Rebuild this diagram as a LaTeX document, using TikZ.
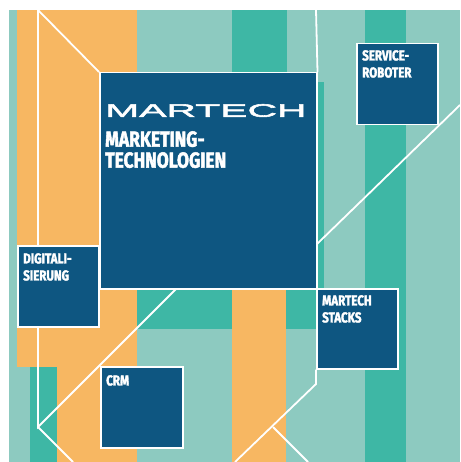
\documentclass[tikz,border=0pt]{standalone}
\usepackage{fontspec}
\usepackage{xcolor}
\usepackage{tikz}
\usetikzlibrary{calc, positioning, backgrounds}
\setmainfont{Fira Sans}
\newfontfamily\labelfont[FakeStretch=0.8,FakeBold=2]{Fira Sans}
\newfontfamily\logofont[FakeStretch=2.27,FakeBold=3]{Liberation Sans}
\definecolor{tealLight}{HTML}{8DCAC0}
\definecolor{tealDark}{HTML}{3EB7A5}
\definecolor{martechOrange}{HTML}{F7B762}
\definecolor{martechBlue}{HTML}{0E5681}

\begin{document}
\begin{tikzpicture}[x=1pt,y=-1pt,
                    topic/.style={rectangle,draw=white,line width=1.5pt,fill=martechBlue,inner sep=0pt,anchor=north west},
                    topic text/.style={font=\labelfont\bfseries\fontsize{14.5}{17}\selectfont,text=white,align=left,inner sep=0pt,anchor=north west},
                    link/.style={draw=white,line width=1.8pt}]
 \useasboundingbox (0,0) rectangle (460,462);

%Boxes
 \node[topic,minimum width=217,minimum height=216] (martech) at (99,72) {};
 \node[topic,minimum width=81,minimum height=81] (service) at (356,43) {};
 \node[topic,minimum width=81,minimum height=81] (digital) at (17,245) {};
 \node[topic,minimum width=81,minimum height=80] (stacks) at (316,288) {};
 \node[topic,minimum width=82,minimum height=81] (crm) at (100,366) {};

%Box texts
 \node[font=\logofont\fontsize{18}{18}\selectfont,text=white,inner sep=0pt,anchor=north west] (logo) at ([shift={(6,32)}]martech.north west) {MARTECH};
 \node[topic text,font=\labelfont\bfseries\fontsize{21.8}{21}\selectfont] (martechlabel) at ([shift={(6,59)}]martech.north west) {MARKETING-\\TECHNOLOGIEN};
 \node[topic text] (servicelabel) at ([shift={(6,7)}]service.north west) {SERVICE-\\ROBOTER};
 \node[topic text] (digitallabel) at ([shift={(6,8)}]digital.north west) {DIGITALI-\\SIERUNG};
 \node[topic text] (stackslabel) at ([shift={(6,7)}]stacks.north west) {MARTECH\\STACKS};
 \node[topic text] (crmlabel) at ([shift={(6,9)}]crm.north west) {CRM};

%Stripes and lines behind the boxes
\begin{scope}[on background layer]
 \fill[tealLight] (9,10) rectangle (460,462);
 \foreach \xa/\ya/\xb/\yb in {365/10/406/462, 232/10/287/80, 137/288/316/329, 30/367/57/462, 310/82/324/288}
    \fill[tealDark] (\xa,\ya) rectangle (\xb,\yb);
 \foreach \xa/\ya/\xb/\yb in {17/10/137/367, 57/367/137/462, 232/280/286/462}
    \fill[martechOrange] (\xa,\ya) rectangle (\xb,\yb);

 \coordinate (lefttop) at (38,10);
 \coordinate (leftknot) at (38,427);
 \coordinate (leftend) at (73,462);
 \coordinate (mainfoot) at (177,288);
 \coordinate (midtop) at (316,10);
 \coordinate (midknot) at (316,384);
 \coordinate (midbranch) at (273,427);
 \coordinate (midend) at (235,462);
 \coordinate (branchend) at (308,462);
 \coordinate (sideknot) at (316,245);
 \coordinate (sideend) at (460,105);

 \draw[link] (lefttop) -- (martech.north west);
 \draw[link] (lefttop) -- (leftknot) -- (mainfoot);
 \draw[link] (leftknot) -- (leftend);
 \draw[link] (midtop) -- (martech.north east);
 \draw[link] (stacks.south west) -- (midknot) -- (midend);
 \draw[link] (midbranch) -- (branchend);
 \draw[link] (sideknot) -- (sideend);
\end{scope}
\end{tikzpicture}
\end{document}
